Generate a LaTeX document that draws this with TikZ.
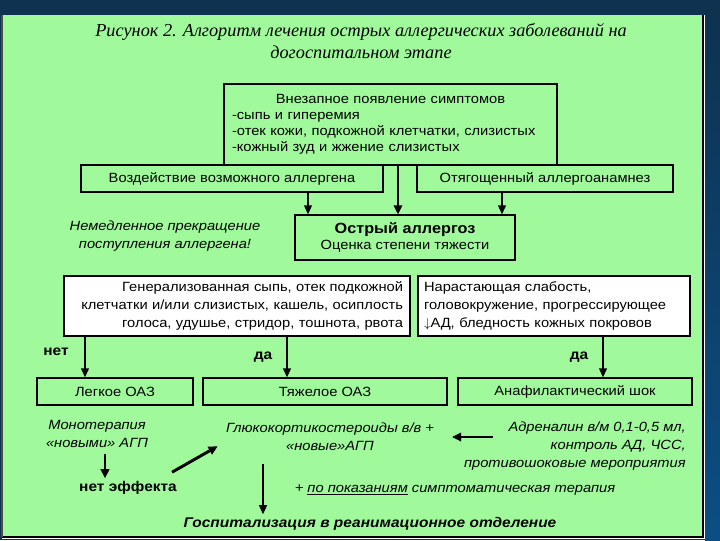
\documentclass[tikz,border=0pt]{standalone}
\usepackage{fontspec}
\setmainfont{Liberation Sans}[FakeStretch=1.1]
\newfontfamily\titlefont{Liberation Serif}
\usepackage{tikz}
\usetikzlibrary{%
	arrows.meta,%
	calc%
}
\definecolor{panelgreen}{RGB}{160,250,156}
\definecolor{topblue}{RGB}{14,50,80}
\definecolor{sideblue}{RGB}{12,78,132}
\newcommand{\pxu}{0.025cm}

\begin{document}
\begin{tikzpicture}[x=0.025cm,y=-0.025cm,
		box/.style={draw,thick,fill=panelgreen,inner sep=0pt,font=\fontsize{9.5}{11.5}\selectfont},
		wbox/.style={box,fill=white,font=\fontsize{9.5}{12.8}\selectfont},
		note/.style={inner sep=0pt,font=\fontsize{9.5}{12.8}\selectfont\itshape},
		lbl/.style={inner sep=0pt,font=\fontsize{10}{12}\selectfont\bfseries},
		arr/.style={-{Triangle[length=6.5pt,width=5.5pt]},line width=1.3pt},
		fatarr/.style={-{Triangle[length=6.5pt,width=6pt]},line width=2.1pt}
	]
		\useasboundingbox (0,0) rectangle (720,540);
		
		% Background frame
		\fill[topblue] (0,0) rectangle (720,540);
		\shade[top color=topblue,bottom color=sideblue] (705,15) rectangle (720,540);
		\fill[panelgreen] (2,15) rectangle (703,537);
		\draw[white,line width=0.6pt] (704.5,15) -- (704.5,538.5) -- (2,538.5);
		\draw[black,line width=0.8pt] (703,15) -- (703,537) -- (2,537);
		\draw[black!70,line width=0.8pt] (2,15) -- (2,537);
		
		% Title
		\node[align=center,font=\titlefont\itshape\fontsize{13}{15.6}\selectfont] (title) at (361,41)
			{Рисунок 2. Алгоритм лечения острых аллергических заболеваний на\\догоспитальном этапе};
		
		% Top part
		\node[box,minimum width=333*\pxu,minimum height=81*\pxu,text width=317*\pxu,align=left] (onset) at (390.5,124.5)
			{{\centering Внезапное появление симптомов\par}-сыпь и гиперемия\\-отек кожи, подкожной клетчатки, слизистых\\-кожный зуд и жжение слизистых};
		\node[box,minimum width=302*\pxu,minimum height=27*\pxu] (allergen) at (232,178.5) {Воздействие возможного аллергена};
		\node[box,minimum width=256*\pxu,minimum height=27*\pxu] (anam) at (545,178.5) {Отягощенный аллергоанамнез};
		\node[note,align=center] (stop) at (165,236) {Немедленное прекращение\\поступления аллергена!};
		\node[box,minimum width=220*\pxu,minimum height=45*\pxu,align=center] (acute) at (405,237.5)
			{{\bfseries\fontsize{10.5}{13}\selectfont Острый аллергоз}\\Оценка степени тяжести};
		
		% Severity
		\node[wbox,minimum width=346*\pxu,minimum height=60*\pxu,text width=332*\pxu,align=right] (gen) at (237,306)
			{Генерализованная сыпь, отек подкожной\\клетчатки и/или слизистых, кашель, осиплость\\голоса, удушье, стридор, тошнота, рвота};
		\node[wbox,minimum width=272*\pxu,minimum height=60*\pxu,text width=260*\pxu,align=left] (weak) at (554,306)
			{Нарастающая слабость,\\головокружение, прогрессирующее\\$\downarrow$АД, бледность кожных покровов};
		\node[lbl] (no) at (56,352) {нет};
		\node[lbl] (yes) at (263,357) {да};
		\node[lbl] (yesb) at (579,357) {да};
		\node[box,minimum width=156*\pxu,minimum height=27*\pxu] (mild) at (115,391.5) {Легкое ОАЗ};
		\node[box,minimum width=244*\pxu,minimum height=27*\pxu] (severe) at (325,391.5) {Тяжелое ОАЗ};
		\node[box,minimum width=234*\pxu,minimum height=27*\pxu] (anaph) at (575,391.5) {Анафилактический шок};
		
		% Treatment
		\node[note,align=center] (mono) at (97,434) {Монотерапия\\«новыми» АГП};
		\node[lbl] (noeff) at (128,488) {нет эффекта};
		\node[note,align=center] (gcs) at (330,437) {Глюкокортикостероиды в/в +\\«новые»АГП};
		\node[note,align=right,anchor=east] (adr) at (686,446) {Адреналин в/м 0,1-0,5 мл,\\контроль АД, ЧСС,\\противошоковые мероприятия};
		\node[note] (sympt) at (455,490) {+ \underline{по показаниям} симптоматическая терапия};
		\node[inner sep=0pt,font=\fontsize{10}{12}\selectfont\bfseries\itshape] (hosp) at (370,524) {Госпитализация в реанимационное отделение};
		
		% Arrows
		\coordinate (xl) at (308,0);
		\coordinate (xm) at (398,0);
		\coordinate (xr) at (502,0);
		\coordinate (xno) at (85,0);
		\coordinate (xyes) at (287,0);
		\coordinate (xyesb) at (603,0);
		\coordinate (xmono) at (105,0);
		\coordinate (xhosp) at (263,0);
		\coordinate (adrtail) at (493,437);
		\coordinate (adrtip) at (452,437);
		\draw[arr] (allergen.south -| xl) -- (acute.north -| xl);
		\draw[fatarr] (onset.south -| xm) -- (acute.north -| xm);
		\draw[arr] (anam.south -| xr) -- (acute.north -| xr);
		\draw[arr] (gen.south -| xno) -- (mild.north -| xno);
		\draw[arr] (gen.south -| xyes) -- (severe.north -| xyes);
		\draw[arr] (weak.south -| xyesb) -- (anaph.north -| xyesb);
		\draw[fatarr,line width=1.6pt,shorten <=4pt,shorten >=2pt] (mono.south -| xmono) -- (noeff.north -| xmono);
		\draw[fatarr] ($(noeff.north east)+(-5,-9)$) -- ($(gcs.south west)+(-8,-5)$);
		\draw[fatarr] (adrtail) -- (adrtip);
		\draw[arr,shorten <=9pt,shorten >=2pt] (gcs.south -| xhosp) -- (hosp.north -| xhosp);
	\end{tikzpicture}
\end{document}
